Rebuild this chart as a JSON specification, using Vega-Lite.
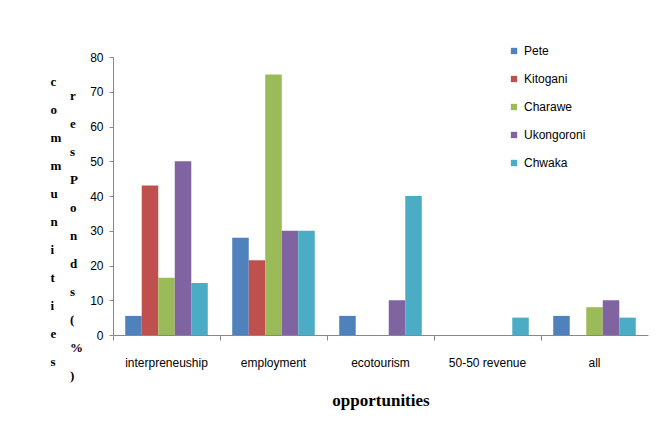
{
  "$schema": "https://vega.github.io/schema/vega-lite/v6.json",
  "width": 535,
  "height": 278,
  "autosize": "none",
  "padding": {"left": 113, "top": 57, "right": 9, "bottom": 113},
  "background": "white",
  "config": {"view": {"stroke": null}},
  "data": {
    "values": [
      {"opportunity": "interpreneuship", "site": "Pete", "pct": 5.5},
      {"opportunity": "interpreneuship", "site": "Kitogani", "pct": 43},
      {"opportunity": "interpreneuship", "site": "Charawe", "pct": 16.5},
      {"opportunity": "interpreneuship", "site": "Ukongoroni", "pct": 50},
      {"opportunity": "interpreneuship", "site": "Chwaka", "pct": 15},
      {"opportunity": "employment", "site": "Pete", "pct": 28},
      {"opportunity": "employment", "site": "Kitogani", "pct": 21.5},
      {"opportunity": "employment", "site": "Charawe", "pct": 75},
      {"opportunity": "employment", "site": "Ukongoroni", "pct": 30},
      {"opportunity": "employment", "site": "Chwaka", "pct": 30},
      {"opportunity": "ecotourism", "site": "Pete", "pct": 5.5},
      {"opportunity": "ecotourism", "site": "Kitogani", "pct": 0},
      {"opportunity": "ecotourism", "site": "Charawe", "pct": 0},
      {"opportunity": "ecotourism", "site": "Ukongoroni", "pct": 10},
      {"opportunity": "ecotourism", "site": "Chwaka", "pct": 40},
      {"opportunity": "50-50 revenue", "site": "Pete", "pct": 0},
      {"opportunity": "50-50 revenue", "site": "Kitogani", "pct": 0},
      {"opportunity": "50-50 revenue", "site": "Charawe", "pct": 0},
      {"opportunity": "50-50 revenue", "site": "Ukongoroni", "pct": 0},
      {"opportunity": "50-50 revenue", "site": "Chwaka", "pct": 5},
      {"opportunity": "all", "site": "Pete", "pct": 5.5},
      {"opportunity": "all", "site": "Kitogani", "pct": 0},
      {"opportunity": "all", "site": "Charawe", "pct": 8},
      {"opportunity": "all", "site": "Ukongoroni", "pct": 10},
      {"opportunity": "all", "site": "Chwaka", "pct": 5}
    ]
  },
  "mark": {"type": "bar"},
  "encoding": {
    "x": {
      "field": "opportunity",
      "type": "nominal",
      "sort": ["interpreneuship", "employment", "ecotourism", "50-50 revenue", "all"],
      "scale": {"paddingInner": 0, "paddingOuter": 0},
      "axis": {
        "title": "opportunities",
        "titleFont": "Liberation Serif",
        "titleFontWeight": "bold",
        "titleFontSize": 17,
        "titleColor": "black",
        "titlePadding": 24,
        "labelAngle": 0,
        "labelFont": "Liberation Sans",
        "labelFontSize": 12,
        "labelColor": "black",
        "labelPadding": 17,
        "bandPosition": 0,
        "tickSize": 5,
        "tickColor": "#888",
        "domainColor": "#888"
      }
    },
    "xOffset": {
      "field": "site",
      "type": "nominal",
      "sort": ["Pete", "Kitogani", "Charawe", "Ukongoroni", "Chwaka"],
      "scale": {"paddingInner": 0, "paddingOuter": 0.74}
    },
    "y": {
      "field": "pct",
      "type": "quantitative",
      "scale": {"domain": [0, 80]},
      "axis": {
        "values": [0, 10, 20, 30, 40, 50, 60, 70, 80],
        "grid": false,
        "tickSize": 4,
        "tickColor": "#888",
        "domainColor": "#888",
        "labelFont": "Liberation Sans",
        "labelFontSize": 12,
        "labelColor": "black",
        "labelPadding": 6,
        "title": ["c", "\u200b\u00a0\u00a0\u00a0\u00a0\u00a0\u00a0r", "o", "\u200b\u00a0\u00a0\u00a0\u00a0\u00a0\u00a0e", "m", "\u200b\u00a0\u00a0\u00a0\u00a0\u00a0\u00a0s", "m", "\u200b\u00a0\u00a0\u00a0\u00a0\u00a0\u00a0P", "u", "\u200b\u00a0\u00a0\u00a0\u00a0\u00a0\u00a0o", "n", "\u200b\u00a0\u00a0\u00a0\u00a0\u00a0\u00a0n", "i", "\u200b\u00a0\u00a0\u00a0\u00a0\u00a0\u00a0d", "t", "\u200b\u00a0\u00a0\u00a0\u00a0\u00a0\u00a0s", "i", "\u200b\u00a0\u00a0\u00a0\u00a0\u00a0\u00a0(", "e", "\u200b\u00a0\u00a0\u00a0\u00a0\u00a0\u00a0%", "s", "\u200b\u00a0\u00a0\u00a0\u00a0\u00a0\u00a0)"],
        "titleAngle": 0,
        "titleAlign": "left",
        "titleBaseline": "top",
        "titleX": -63,
        "titleY": 18,
        "titleLineHeight": 14,
        "titleFont": "Liberation Serif",
        "titleFontWeight": "bold",
        "titleFontSize": 13,
        "titleColor": "black"
      }
    },
    "color": {
      "field": "site",
      "type": "nominal",
      "sort": ["Pete", "Kitogani", "Charawe", "Ukongoroni", "Chwaka"],
      "scale": {
        "domain": ["Pete", "Kitogani", "Charawe", "Ukongoroni", "Chwaka"],
        "range": ["#4F81BD", "#C0504D", "#9BBB59", "#8064A2", "#4BACC6"]
      },
      "legend": {
        "title": null,
        "orient": "none",
        "legendX": 395,
        "legendY": -12,
        "symbolType": "square",
        "symbolSize": 40,
        "symbolStrokeWidth": 0,
        "labelFont": "Liberation Sans",
        "labelFontSize": 12,
        "labelColor": "black",
        "labelOffset": 4,
        "rowPadding": 16
      }
    }
  }
}
